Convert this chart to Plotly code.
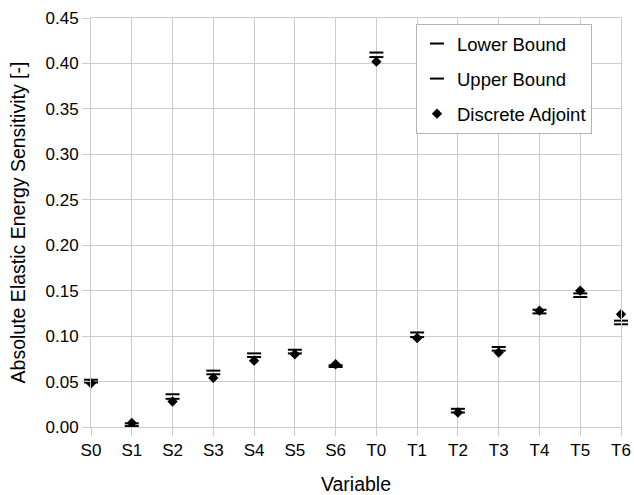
import plotly.graph_objects as go

labels = ["S0", "S1", "S2", "S3", "S4", "S5", "S6", "T0", "T1", "T2", "T3", "T4", "T5", "T6"]
lower_bound = [0.049, 0.001, 0.031, 0.058, 0.077, 0.081, 0.066, 0.407, 0.099, 0.016, 0.084, 0.125, 0.143, 0.113]
upper_bound = [0.052, 0.004, 0.036, 0.062, 0.081, 0.085, 0.068, 0.412, 0.104, 0.020, 0.088, 0.129, 0.147, 0.117]
discrete_adjoint = [0.048, 0.0045, 0.028, 0.054, 0.073, 0.080, 0.069, 0.402, 0.098, 0.016, 0.082, 0.128, 0.150, 0.124]
y_ticks = [0.00, 0.05, 0.10, 0.15, 0.20, 0.25, 0.30, 0.35, 0.40, 0.45]

xpos = list(range(len(labels)))
FONT = "Liberation Sans, Arial, sans-serif"

fig = go.Figure()
fig.add_trace(go.Scatter(
    x=xpos, y=lower_bound, mode="markers", name="Lower Bound", legendgroup="a",
    cliponaxis=False,
    marker=dict(symbol="line-ew", size=10, color="black", line=dict(width=2, color="black")),
))
fig.add_trace(go.Scatter(
    x=xpos, y=upper_bound, mode="markers", name="Upper Bound", legendgroup="b",
    cliponaxis=False,
    marker=dict(symbol="line-ew", size=10, color="black", line=dict(width=2, color="black")),
))
fig.add_trace(go.Scatter(
    x=xpos, y=discrete_adjoint, mode="markers", name="Discrete Adjoint", legendgroup="c",
    cliponaxis=False,
    marker=dict(symbol="diamond", size=8, color="black", line=dict(width=0)),
))

grid = "#cccccc"
fig.update_layout(
    width=634, height=495,
    margin=dict(l=91, r=13, t=18, b=68),
    paper_bgcolor="white", plot_bgcolor="white",
    font=dict(family=FONT, size=17, color="black"),
    showlegend=True,
    legend=dict(
        x=(416 - 91) / 530, y=(427 - 24) / 409, xanchor="left", yanchor="top",
        bgcolor="white", bordercolor="#b3b3b3", borderwidth=1,
        font=dict(family=FONT, size=18.5, color="black"),
        traceorder="grouped", tracegroupgap=8, itemwidth=30,
        entrywidth=165,
    ),
    xaxis=dict(
        range=[0, len(labels) - 1], tickmode="array", tickvals=xpos, ticktext=labels,
        showgrid=True, gridcolor=grid, gridwidth=1, zeroline=False,
        showline=True, linecolor=grid, mirror=True, automargin=False,
        ticks="outside", ticklen=8, tickcolor=grid,
        title=dict(text="Variable", font=dict(family=FONT, size=19.5), standoff=20),
        tickfont=dict(family=FONT, size=17),
    ),
    yaxis=dict(
        range=[0, 0.45], tickmode="array", tickvals=y_ticks,
        ticktext=[f"{v:.2f}" for v in y_ticks],
        showgrid=True, gridcolor=grid, gridwidth=1, zeroline=False,
        showline=True, linecolor=grid, mirror=True, automargin=False,
        ticks="outside", ticklen=8, tickcolor=grid,
        title=dict(text="Absolute Elastic Energy Sensitivity [-]", font=dict(family=FONT, size=19.5), standoff=14),
        tickfont=dict(family=FONT, size=17),
    ),
)

fig.write_html("out.html")
